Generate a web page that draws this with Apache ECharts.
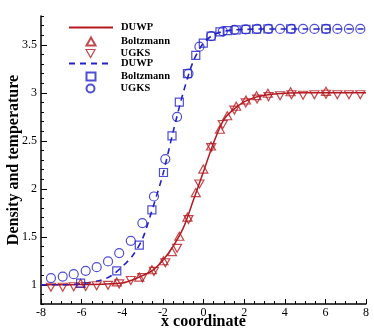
<!DOCTYPE html>
<html>
<head>
<meta charset="utf-8">
<script src="https://cdn.jsdelivr.net/npm/echarts@6.0.0/dist/echarts.min.js"></script>
<style>
  html, body { margin: 0; padding: 0; background: #fff; }
  #chart { width: 374px; height: 332px; }
</style>
</head>
<body>
<div id="chart"></div>
<script>
// x positions of the DUWP curves
const lineX = [-8, -7, -6, -5, -4.5, -4, -3.5, -3, -2.5, -2, -1.5, -1, -0.5, 0, 0.5, 1, 1.5, 2, 2.5, 3, 4, 5, 6, 7, 8]
const redLineY = [1.0, 1.0, 1.002, 1.005, 1.01, 1.018, 1.05, 1.095, 1.15, 1.255, 1.40, 1.59, 1.88, 2.18, 2.48, 2.72, 2.83, 2.905, 2.95, 2.975, 2.995, 3.0, 3.0, 3.0, 3.0]
const blueLineY = [1.0, 1.0, 1.012, 1.05, 1.10, 1.19, 1.30, 1.48, 1.80, 2.15, 2.59, 3.0, 3.33, 3.52, 3.605, 3.64, 3.655, 3.66, 3.663, 3.665, 3.665, 3.665, 3.665, 3.665, 3.665]

// Boltzmann samples
const boltzX = [-6.05, -4.27, -3.16, -2.54, -1.97, -1.55, -1.19, -0.79, -0.38, -0.01, 0.37, 0.81, 1.17, 1.61, 2.09, 2.61, 3.17, 4.29, 6.03]
const boltzRedY = [1.005, 1.02, 1.07, 1.146, 1.24, 1.335, 1.495, 1.695, 1.95, 2.195, 2.435, 2.61, 2.75, 2.85, 2.915, 2.96, 2.985, 3.0, 3.005]
const boltzBlueY = [1.018, 1.145, 1.414, 1.781, 2.17, 2.552, 2.903, 3.2, 3.389, 3.518, 3.59, 3.635, 3.648, 3.656, 3.66, 3.663, 3.665, 3.665, 3.665]

// UGKS samples
const ugksX = [-7.51, -6.93, -6.39, -5.80, -5.26, -4.70, -4.15, -3.58, -3.01, -2.44, -1.88, -1.30, -0.74, -0.20, 0.38, 0.95, 1.52, 2.08, 2.64, 3.20, 3.77, 4.33, 4.90, 5.46, 6.03, 6.59, 7.16, 7.72]
const ugksRedY = [0.985, 0.985, 0.99, 0.993, 1.0, 1.005, 1.02, 1.055, 1.085, 1.15, 1.24, 1.39, 1.69, 2.06, 2.44, 2.68, 2.83, 2.905, 2.945, 2.97, 2.98, 2.99, 2.985, 2.99, 2.995, 2.99, 2.99, 2.99]
const ugksBlueY = [1.07, 1.086, 1.111, 1.146, 1.184, 1.243, 1.33, 1.458, 1.643, 1.92, 2.31, 2.75, 3.2, 3.48, 3.59, 3.64, 3.655, 3.66, 3.665, 3.665, 3.665, 3.665, 3.665, 3.665, 3.665, 3.665, 3.665, 3.665]

// axis ticks
const yLabels = [1, 1.5, 2, 2.5, 3, 3.5]
const yMinorTicks = [0.8, 0.9, 1.1, 1.2, 1.3, 1.4, 1.6, 1.7, 1.8, 1.9, 2.1, 2.2, 2.3, 2.4, 2.6, 2.7, 2.8, 2.9, 3.1, 3.2, 3.3, 3.4, 3.6, 3.7, 3.8]

const RED = '#b41a20'
const BLUE = '#2222c8'
const FONT = 'Liberation Serif'

const pairs = (xs, ys) => xs.map((x, i) => [x, ys[i]])

const chart = echarts.init(document.getElementById('chart'))

// one legend per row, so lines and markers line up like the original key
function lineRow(name, top) {
  return {
    data: [name],
    top: top,
    left: 68,
    padding: 0,
    itemWidth: 44,
    itemHeight: 10,
    selectedMode: false,
    itemStyle: { opacity: 0 },
    formatter: n => n.split('|')[0],
    textStyle: { fontFamily: FONT, fontWeight: 'bold', fontSize: 10.5, color: '#000', padding: [0, 0, 0, 3] }
  }
}
function markRow(item, top) {
  return {
    data: [item],
    top: top,
    left: 85.5,
    padding: 0,
    itemWidth: 9,
    itemHeight: 8,
    symbolKeepAspect: true,
    selectedMode: false,
    formatter: n => n.split('|')[0],
    textStyle: { fontFamily: FONT, fontWeight: 'bold', fontSize: 10.5, color: '#000', padding: [0, 0, 0, 20.5] }
  }
}

const axisText = { fontFamily: FONT, fontSize: 12, color: '#000' }
const nameText = { fontFamily: FONT, fontWeight: 'bold', fontSize: 16, color: '#000' }

chart.setOption({
  animation: false,
  grid: { left: 41, right: 8, top: 16, bottom: 28, outerBoundsMode: 'none', containLabel: false },
  legend: [
    lineRow('DUWP|r', 22),
    markRow('Boltzmann|r', 36),
    markRow({ name: 'UGKS|r', icon: 'path://M0,0L10,0L5,9Z', itemStyle: { color: 'transparent', borderColor: RED, borderWidth: 1.2 } }, 48),
    lineRow('DUWP|b', 58),
    markRow('Boltzmann|b', 71),
    markRow('UGKS|b', 83)
  ],
  xAxis: {
    type: 'value',
    min: -8,
    max: 8,
    interval: 2,
    name: 'x coordinate',
    nameLocation: 'middle',
    nameGap: 10,
    nameMoveOverlap: false,
    nameTextStyle: nameText,
    axisLine: { onZero: false, lineStyle: { color: '#000', width: 1.5 } },
    axisTick: { inside: true, length: 5, lineStyle: { color: '#000' } },
    minorTick: { show: true, splitNumber: 4, length: 3, lineStyle: { color: '#000' } },
    axisLabel: Object.assign({ margin: 3 }, axisText),
    splitLine: { show: false }
  },
  yAxis: [
    {
      type: 'value',
      min: 0.8,
      max: 3.8,
      name: 'Density and temperature',
      nameLocation: 'middle',
      nameGap: 19,
      nameMoveOverlap: false,
      nameTextStyle: nameText,
      axisLine: { show: true, onZero: false, lineStyle: { color: '#000', width: 1.5 } },
      axisTick: { show: true, inside: true, length: 6, customValues: yLabels, lineStyle: { color: '#000' } },
      axisLabel: Object.assign({ margin: 4, customValues: yLabels }, axisText),
      splitLine: { show: false }
    },
    {
      type: 'value',
      min: 0.8,
      max: 3.8,
      position: 'left',
      axisLine: { show: false, onZero: false },
      axisTick: { show: true, inside: true, length: 3, customValues: yMinorTicks, lineStyle: { color: '#000' } },
      axisLabel: { show: false },
      splitLine: { show: false }
    }
  ],
  series: [
    {
      name: 'DUWP|r',
      type: 'line',
      data: pairs(lineX, redLineY),
      smooth: 0.3,
      symbol: 'none',
      lineStyle: { color: RED, width: 1.5 },
      itemStyle: { color: RED },
      z: 2
    },
    {
      name: 'Boltzmann|r',
      type: 'scatter',
      data: pairs(boltzX, boltzRedY),
      symbol: 'triangle',
      symbolSize: [9, 8],
      symbolOffset: [0, -1],
      itemStyle: { color: 'transparent', borderColor: RED, borderWidth: 1.2 },
      z: 3
    },
    {
      name: 'UGKS|r',
      type: 'scatter',
      data: pairs(ugksX, ugksRedY),
      symbol: 'triangle',
      symbolRotate: 180,
      symbolSize: [9, 8],
      symbolOffset: [0, 1],
      itemStyle: { color: 'transparent', borderColor: RED, borderWidth: 1.2 },
      z: 3
    },
    {
      name: 'DUWP|b',
      type: 'line',
      data: pairs(lineX, blueLineY),
      smooth: 0.3,
      symbol: 'none',
      lineStyle: { color: BLUE, width: 1.6, type: [6, 5] },
      itemStyle: { color: BLUE },
      z: 2
    },
    {
      name: 'Boltzmann|b',
      type: 'scatter',
      data: pairs(boltzX, boltzBlueY),
      symbol: 'rect',
      symbolSize: 8,
      itemStyle: { color: 'transparent', borderColor: BLUE, borderWidth: 1.2 },
      z: 3
    },
    {
      name: 'UGKS|b',
      type: 'scatter',
      data: pairs(ugksX, ugksBlueY),
      symbol: 'circle',
      symbolSize: 9,
      itemStyle: { color: 'transparent', borderColor: BLUE, borderWidth: 1.2 },
      z: 3
    }
  ]
})
</script>
</body>
</html>
